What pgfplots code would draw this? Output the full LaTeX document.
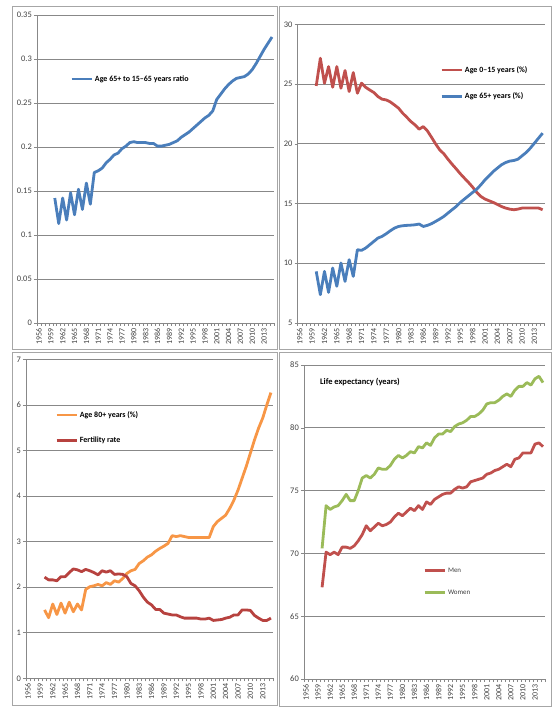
\documentclass[border=0pt]{standalone}
\usepackage{pgfplots}
\pgfplotsset{compat=1.18}
\usepackage{pgfplotstable}
\usepackage{fontspec}
\setmainfont{Carlito}
\definecolor{axgray}{HTML}{888888}
\definecolor{framegray}{HTML}{A6A6A6}
\definecolor{lbl}{HTML}{404040}
\definecolor{cblue}{HTML}{4A7EBB}
\definecolor{cred}{HTML}{C0504D}
\definecolor{corange}{HTML}{F79646}
\definecolor{cdred}{HTML}{B7423F}
\definecolor{cgreen}{HTML}{9BBB59}

\pgfplotstableread{
year ratio
1960 0.142
1961 0.113
1962 0.142
1963 0.117
1964 0.148
1965 0.123
1966 0.152
1967 0.129
1968 0.159
1969 0.135
1970 0.171
1971 0.173
1972 0.176
1973 0.182
1974 0.186
1975 0.191
1976 0.193
1977 0.198
1978 0.201
1979 0.205
1980 0.206
1981 0.205
1982 0.205
1983 0.205
1984 0.204
1985 0.204
1986 0.201
1987 0.201
1988 0.202
1989 0.203
1990 0.205
1991 0.207
1992 0.211
1993 0.214
1994 0.217
1995 0.221
1996 0.225
1997 0.229
1998 0.233
1999 0.236
2000 0.241
2001 0.254
2002 0.260
2003 0.266
2004 0.271
2005 0.275
2006 0.278
2007 0.279
2008 0.280
2009 0.283
2010 0.288
2011 0.295
2012 0.303
2013 0.311
2014 0.318
2015 0.325
}\ratiotable

\pgfplotstableread{
year young old
1960 24.84 9.32
1961 27.16 7.37
1962 25.07 9.32
1963 26.46 7.56
1964 24.73 9.60
1965 26.46 8.07
1966 24.65 10.02
1967 26.13 8.48
1968 24.37 10.30
1969 25.96 8.90
1970 24.23 11.13
1971 25.07 11.08
1972 24.73 11.27
1973 24.50 11.55
1974 24.29 11.83
1975 23.95 12.11
1976 23.73 12.25
1977 23.67 12.47
1978 23.50 12.72
1979 23.25 12.94
1980 22.98 13.08
1981 22.56 13.14
1982 22.22 13.17
1983 21.86 13.19
1984 21.58 13.22
1985 21.22 13.28
1986 21.44 13.08
1987 21.08 13.17
1988 20.55 13.31
1989 19.99 13.50
1990 19.49 13.70
1991 19.16 13.92
1992 18.71 14.20
1993 18.29 14.48
1994 17.90 14.75
1995 17.49 15.09
1996 17.12 15.37
1997 16.76 15.65
1998 16.37 15.93
1999 15.93 16.20
2000 15.59 16.57
2001 15.37 16.98
2002 15.23 17.32
2003 15.09 17.68
2004 14.92 17.96
2005 14.75 18.24
2006 14.62 18.43
2007 14.53 18.55
2008 14.48 18.60
2009 14.53 18.71
2010 14.62 18.99
2011 14.62 19.27
2012 14.62 19.63
2013 14.62 20.05
2014 14.62 20.47
2015 14.48 20.89
}\agetable

\pgfplotstableread{
year eighty fert
1960 1.50 2.22
1961 1.33 2.16
1962 1.63 2.16
1963 1.40 2.14
1964 1.65 2.23
1965 1.43 2.23
1966 1.67 2.32
1967 1.46 2.40
1968 1.63 2.38
1969 1.50 2.34
1970 1.95 2.39
1971 2.01 2.36
1972 2.03 2.32
1973 2.06 2.27
1974 2.03 2.36
1975 2.10 2.33
1976 2.06 2.36
1977 2.14 2.28
1978 2.11 2.29
1979 2.19 2.28
1980 2.30 2.23
1981 2.36 2.08
1982 2.39 2.03
1983 2.52 1.92
1984 2.58 1.78
1985 2.66 1.67
1986 2.71 1.61
1987 2.79 1.51
1988 2.85 1.51
1989 2.90 1.43
1990 2.96 1.41
1991 3.13 1.39
1992 3.11 1.39
1993 3.13 1.35
1994 3.11 1.32
1995 3.09 1.32
1996 3.09 1.32
1997 3.09 1.32
1998 3.09 1.30
1999 3.09 1.30
2000 3.09 1.32
2001 3.33 1.27
2002 3.44 1.28
2003 3.51 1.29
2004 3.58 1.32
2005 3.73 1.34
2006 3.91 1.39
2007 4.13 1.39
2008 4.39 1.50
2009 4.65 1.50
2010 4.94 1.49
2011 5.23 1.38
2012 5.49 1.32
2013 5.71 1.27
2014 6.00 1.27
2015 6.27 1.32
}\oldtable

\pgfplotstableread{
year men women
1960 67.3 70.4
1961 70.1 73.8
1962 69.9 73.5
1963 70.1 73.7
1964 69.9 73.8
1965 70.5 74.2
1966 70.5 74.7
1967 70.4 74.2
1968 70.6 74.2
1969 71.0 75.0
1970 71.5 76.0
1971 72.2 76.2
1972 71.8 76.0
1973 72.1 76.3
1974 72.4 76.8
1975 72.2 76.7
1976 72.3 76.7
1977 72.5 77.0
1978 72.9 77.5
1979 73.2 77.8
1980 73.0 77.6
1981 73.3 77.8
1982 73.6 78.1
1983 73.4 78.0
1984 73.8 78.5
1985 73.5 78.4
1986 74.1 78.8
1987 73.9 78.6
1988 74.3 79.2
1989 74.5 79.5
1990 74.7 79.5
1991 74.8 79.8
1992 74.8 79.7
1993 75.1 80.1
1994 75.3 80.3
1995 75.2 80.4
1996 75.3 80.6
1997 75.7 80.9
1998 75.8 80.9
1999 75.9 81.1
2000 76.0 81.4
2001 76.3 81.9
2002 76.4 82.0
2003 76.6 82.0
2004 76.7 82.2
2005 76.9 82.5
2006 77.1 82.7
2007 76.9 82.5
2008 77.5 83.0
2009 77.6 83.3
2010 78.0 83.3
2011 78.0 83.6
2012 78.0 83.4
2013 78.7 83.9
2014 78.8 84.1
2015 78.5 83.6
}\lifetable

\pgfplotsset{
  excel/.style={
    scale only axis,
    axis x line*=bottom, axis y line*=left,
    axis line style={draw=axgray, line width=0.6bp, -},
    xmin=1955.5, xmax=2015.5,
    xtick={1956,1959,...,2013},
    major x tick style={draw=none},
    minor xtick={1955.5,1956.5,...,2015.5},
    minor x tick style={draw=axgray, line width=0.5bp},
    minor tick length=3bp,
    major tick length=3bp,
    tick align=outside,
    y tick style={draw=axgray, line width=0.5bp},
    ymajorgrids,
    grid style={draw=axgray, line width=0.6bp},
    /pgf/number format/assume math mode=true,
    /pgf/number format/1000 sep={},
    x tick label style={rotate=90, anchor=east, font=\fontsize{8}{9}\selectfont, text=lbl, inner sep=2bp},
    y tick label style={font=\fontsize{8.5}{9}\selectfont, text=lbl, inner sep=2bp},
    legend style={draw=none, fill=none, font=\bfseries\fontsize{8}{9}\selectfont, inner sep=0pt, cells={anchor=west}, text=black},
    legend image code/.code={\draw[##1, line width=2.8bp] (0bp,0bp) -- (20bp,0bp);},
    every axis plot/.append style={line width=2.8bp, line join=round, mark=none},
  }
}

\begin{document}
\begin{tikzpicture}
\useasboundingbox (0bp,0bp) rectangle (552bp,709bp);
% panel frames
\draw[framegray, line width=0.8bp] (12bp,360bp) rectangle (277bp,703bp);
\draw[framegray, line width=0.8bp] (279bp,360bp) rectangle (551bp,703bp);
\draw[framegray, line width=0.8bp] (12bp,4bp) rectangle (277bp,357bp);
\draw[framegray, line width=0.8bp] (279bp,3bp) rectangle (551bp,357bp);

% Panel 1
\begin{axis}[excel, at={(37bp,386bp)}, anchor=south west, width=237bp, height=308bp,
  ymin=0, ymax=0.35, ytick={0,0.05,0.1,0.15,0.2,0.25,0.3,0.35},
  yticklabels={0,0.05,0.1,0.15,0.2,0.25,0.3,0.35},
  legend style={at={(axis description cs:0.139,0.792)}, anchor=west}]
\addplot[cblue] table[x=year, y=ratio] {\ratiotable};
\addlegendentry{Age 65+ to 15\textendash65 years ratio}
\end{axis}

% Panel 2
\begin{axis}[excel, at={(297.7bp,386bp)}, anchor=south west, width=247bp, height=298.7bp,
  ymin=5, ymax=30, ytick={5,10,15,20,25,30},
  legend style={at={(axis description cs:0.576,0.803)}, anchor=west, row sep=15bp}]
\addplot[cred] table[x=year, y=young] {\agetable};
\addlegendentry{Age 0\textendash15 years (\%)}
\addplot[cblue] table[x=year, y=old] {\agetable};
\addlegendentry{Age 65+ years (\%)}
\end{axis}

% Panel 3
\begin{axis}[excel, at={(26bp,30.7bp)}, anchor=south west, width=247bp, height=319bp,
  ymin=0, ymax=7, ytick={0,1,2,3,4,5,6,7},
  legend style={at={(axis description cs:0.117,0.786)}, anchor=west, row sep=14bp}]
\addplot[corange] table[x=year, y=eighty] {\oldtable};
\addlegendentry{Age 80+ years (\%)}
\addplot[cdred] table[x=year, y=fert] {\oldtable};
\addlegendentry{Fertility rate}
\end{axis}

% Panel 4
\begin{axis}[excel, at={(304bp,30bp)}, anchor=south west, width=241bp, height=314bp,
  ymin=60, ymax=85, ytick={60,65,70,75,80,85},
  legend style={at={(axis description cs:0.494,0.310)}, anchor=west, row sep=12bp,
    font=\fontsize{7}{8}\selectfont, text=lbl}]
\addplot[cred] table[x=year, y=men] {\lifetable};
\addlegendentry{Men}
\addplot[cgreen] table[x=year, y=women] {\lifetable};
\addlegendentry{Women}
\node[anchor=west, font=\bfseries\fontsize{8.5}{9}\selectfont, inner sep=0pt] at (axis description cs:0.066,0.946) {Life expectancy (years)};
\end{axis}
\end{tikzpicture}
\end{document}
